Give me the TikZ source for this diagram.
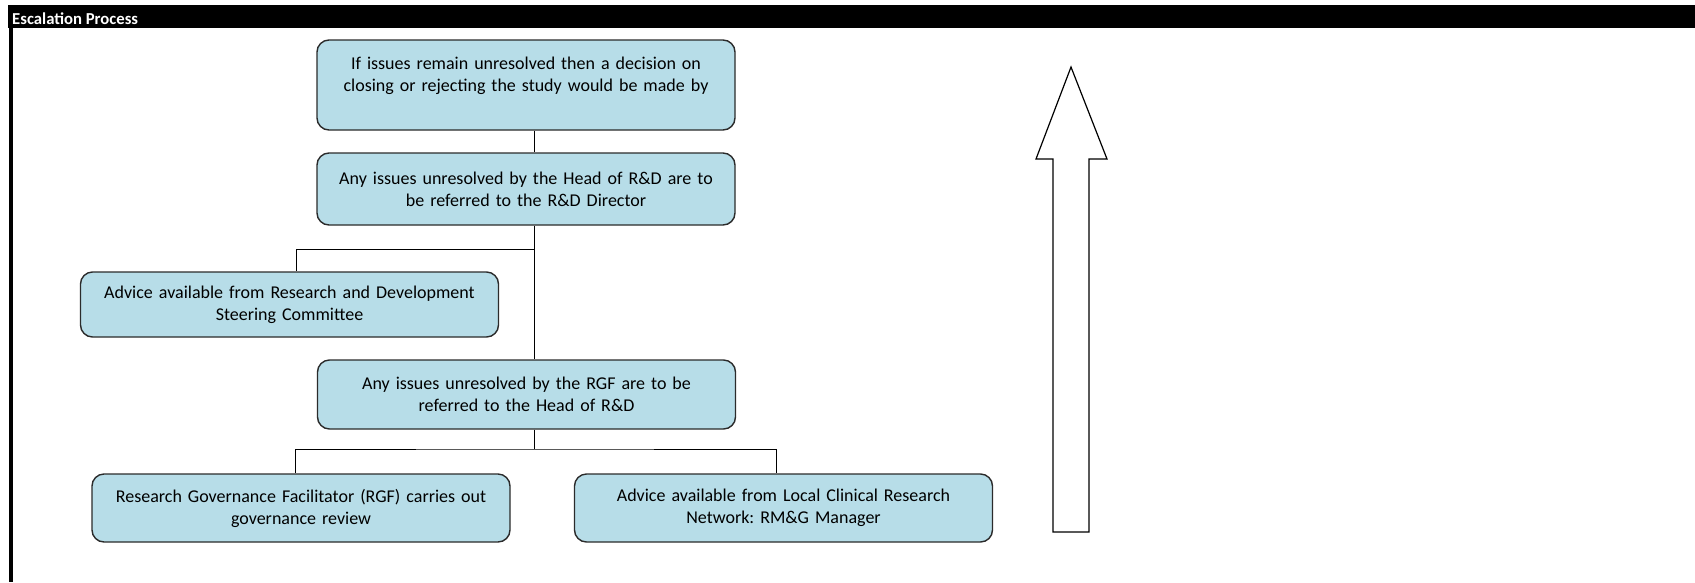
\documentclass[tikz,border=0pt]{standalone}
\usepackage{fontspec}
\setmainfont{Carlito}
\usepackage{tikz}
\usetikzlibrary{positioning,calc}
\usepackage{xcolor}
\definecolor{boxblue}{HTML}{B7DDE8}
\definecolor{boxline}{HTML}{2B2B2B}
\frenchspacing

\begin{document}
\begin{tikzpicture}[x=1pt,y=-1pt,
    escbox/.style={draw=boxline, line width=1.4pt, fill=boxblue, rounded corners=12pt,
        minimum width=418pt, text width=405pt, align=center, inner sep=0pt,
        font=\fontsize{18}{22}\selectfont},
    link/.style={draw=black, line width=1pt}]
    \useasboundingbox (0,0) rectangle (1695,582);

    % Draw header band and left edge
    \fill[black] (8,5) rectangle (1695,28);
    \fill[black] (9,5) rectangle (13,582);
    \node[anchor=base west, text=white, inner sep=0pt] (title) at (12,24.5)
        {\fontsize{16.7}{18}\selectfont\bfseries Escalation Process};

    % Draw the boxes
    \node[escbox, minimum height=90pt] (top) at (526,85)
        {If issues remain unresolved then a decision on\\closing or rejecting the study would be made by\\\mbox{}};
    \node[escbox, minimum height=72pt] (dir) at (526,189)
        {Any issues unresolved by the Head of R\&D are to\\be referred to the R\&D Director};
    \node[escbox, minimum height=65pt] (rdsc) at (289.5,304.5)
        {Advice available from Research and Development\\Steering Committee};
    \node[escbox, minimum height=69pt] (head) at (526.5,394.5)
        {Any issues unresolved by the RGF are to be\\referred to the Head of R\&D};
    \node[escbox, minimum height=68pt] (rgf) at (301,508)
        {Research Governance Facilitator (RGF) carries out\\governance review};
    \node[escbox, minimum height=68pt] (lcrn) at (783.5,508)
        {Advice available from Local Clinical Research\\Network: RM\&G Manager};

    % Connectors
    \coordinate (spine) at (534,0);
    \coordinate (jsc) at (534,249);
    \coordinate (jb) at (534,449);
    \draw[link] (top.south -| spine) -- (dir.north -| spine);
    \draw[link] (dir.south -| spine) -- (head.north -| spine);
    \draw[link] (jsc) -| ([xshift=6.5pt]rdsc.north);
    \draw[link] (head.south -| spine) -- (jb);
    \draw[link] ([xshift=-6pt]rgf.north) |- (jb) -| ([xshift=-7.5pt]lcrn.north);

    % Big upward arrow
    \draw[line width=1.2pt, fill=white] (1071,67) -- (1107,159) -- (1089,159) -- (1089,532)
        -- (1053,532) -- (1053,159) -- (1036,159) -- cycle;
\end{tikzpicture}
\end{document}
